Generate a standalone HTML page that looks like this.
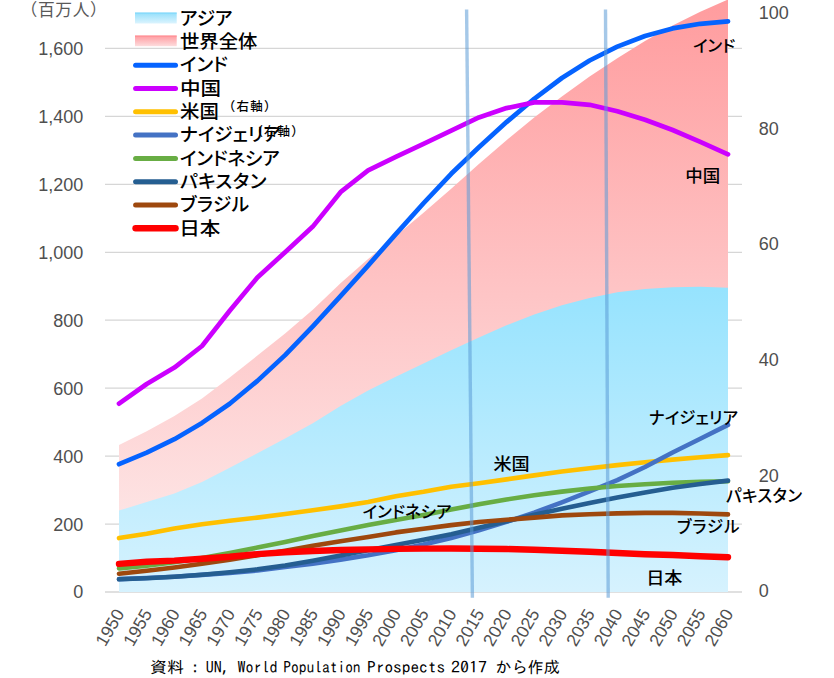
<!DOCTYPE html>
<html lang="ja"><head><meta charset="utf-8"><title>人口推移</title>
<style>
html,body{margin:0;padding:0;background:#fff;width:834px;height:678px;overflow:hidden}
svg{display:block}
.ax{font-family:"Liberation Sans",sans-serif;font-size:18px;fill:#4f4f4f}
.xl{font-family:"Liberation Sans",sans-serif;font-size:17.6px;fill:#4f4f4f}
.jp{font-family:"Liberation Sans","Noto Sans CJK JP",sans-serif;fill:#000;font-feature-settings:"palt"}
.lg{font-size:18.7px;font-weight:500}
.lb{font-size:16.5px;font-weight:500}
</style></head><body>
<svg width="834" height="678" viewBox="0 0 834 678">
<defs>
<linearGradient id="gw" x1="0" y1="0" x2="0" y2="1">
<stop offset="0" stop-color="#ff9c9e"/><stop offset="1" stop-color="#fdeeee"/></linearGradient>
<linearGradient id="ga" x1="0" y1="0" x2="0" y2="1">
<stop offset="0" stop-color="#96e3fe"/><stop offset="1" stop-color="#d6f2fe"/></linearGradient>
<linearGradient id="gws" x1="0" y1="0" x2="0" y2="1">
<stop offset="0" stop-color="#ff9a9f"/><stop offset="1" stop-color="#fddcdd"/></linearGradient>
<linearGradient id="gas" x1="0" y1="0" x2="0" y2="1">
<stop offset="0" stop-color="#93dffb"/><stop offset="1" stop-color="#dcf4fe"/></linearGradient>
</defs>

<line x1="105" y1="592.0" x2="742" y2="592.0" stroke="#d6d6d6" stroke-width="1.3"/>
<line x1="105" y1="524.1" x2="742" y2="524.1" stroke="#d6d6d6" stroke-width="1.3"/>
<line x1="105" y1="456.1" x2="742" y2="456.1" stroke="#d6d6d6" stroke-width="1.3"/>
<line x1="105" y1="388.2" x2="742" y2="388.2" stroke="#d6d6d6" stroke-width="1.3"/>
<line x1="105" y1="320.2" x2="742" y2="320.2" stroke="#d6d6d6" stroke-width="1.3"/>
<line x1="105" y1="252.3" x2="742" y2="252.3" stroke="#d6d6d6" stroke-width="1.3"/>
<line x1="105" y1="184.3" x2="742" y2="184.3" stroke="#d6d6d6" stroke-width="1.3"/>
<line x1="105" y1="116.4" x2="742" y2="116.4" stroke="#d6d6d6" stroke-width="1.3"/>
<line x1="105" y1="48.4" x2="742" y2="48.4" stroke="#d6d6d6" stroke-width="1.3"/>
<path d="M119.0,592.0 L119.0,445.0 L146.7,431.3 L174.4,416.1 L202.0,398.4 L229.7,377.5 L257.4,355.6 L285.1,333.6 L312.8,309.7 L340.5,283.2 L368.1,259.1 L395.8,235.9 L423.5,212.8 L451.2,188.8 L478.9,164.1 L506.5,140.2 L534.2,117.6 L561.9,96.4 L589.6,76.6 L617.3,58.2 L645.0,41.1 L672.6,25.6 L700.3,11.8 L728.0,-0.5 L728.0,592.0 Z" fill="url(#gw)"/>
<path d="M119.0,592.0 L119.0,510.6 L146.7,502.0 L174.4,493.4 L202.0,482.0 L229.7,467.8 L257.4,453.2 L285.1,438.5 L312.8,423.3 L340.5,405.9 L368.1,390.5 L395.8,376.7 L423.5,363.4 L451.2,350.3 L478.9,337.4 L506.5,325.3 L534.2,314.6 L561.9,305.3 L589.6,297.9 L617.3,292.3 L645.0,288.9 L672.6,287.3 L700.3,286.8 L728.0,287.7 L728.0,592.0 Z" fill="url(#ga)"/>
<polyline points="119.0,464.2 146.7,452.7 174.4,439.2 202.0,422.9 229.7,403.8 257.4,380.9 285.1,355.1 312.8,326.3 340.5,296.2 368.1,265.6 395.8,234.1 423.5,203.3 451.2,173.8 478.9,147.3 506.5,122.1 534.2,98.8 561.9,78.0 589.6,60.5 617.3,46.6 645.0,36.0 672.6,28.4 700.3,23.8 728.0,21.3" fill="none" stroke="#0563ff" stroke-width="4.7" stroke-linecap="round" stroke-linejoin="round"/>
<polyline points="119.0,403.7 146.7,384.0 174.4,367.6 202.0,346.0 229.7,310.8 257.4,277.4 285.1,252.2 312.8,226.6 340.5,192.2 368.1,170.4 395.8,156.8 423.5,143.9 451.2,130.7 478.9,117.4 506.5,108.1 534.2,102.4 561.9,102.4 589.6,104.8 617.3,111.3 645.0,119.8 672.6,130.0 700.3,141.9 728.0,154.4" fill="none" stroke="#cc00ff" stroke-width="4.7" stroke-linecap="round" stroke-linejoin="round"/>
<polyline points="119.0,538.1 146.7,533.7 174.4,528.6 202.0,524.2 229.7,520.8 257.4,517.6 285.1,514.0 312.8,510.3 340.5,506.4 368.1,501.9 395.8,496.2 423.5,491.8 451.2,486.7 478.9,483.3 506.5,479.4 534.2,475.4 561.9,471.5 589.6,468.2 617.3,465.1 645.0,462.2 672.6,459.6 700.3,457.3 728.0,455.1" fill="none" stroke="#ffc000" stroke-width="4.6" stroke-linecap="round" stroke-linejoin="round"/>
<polyline points="119.0,579.1 146.7,578.0 174.4,576.7 202.0,574.9 229.7,573.0 257.4,570.5 285.1,567.0 312.8,563.6 340.5,559.6 368.1,555.3 395.8,550.2 423.5,544.6 451.2,538.1 478.9,530.4 506.5,521.9 534.2,512.6 561.9,502.3 589.6,491.4 617.3,480.2 645.0,467.0 672.6,452.5 700.3,438.8 728.0,424.9" fill="none" stroke="#4472c4" stroke-width="4.6" stroke-linecap="round" stroke-linejoin="round"/>
<polyline points="119.0,568.4 146.7,565.8 174.4,562.2 202.0,557.9 229.7,553.0 257.4,547.6 285.1,541.9 312.8,535.9 340.5,530.4 368.1,525.1 395.8,520.1 423.5,515.0 451.2,509.6 478.9,504.3 506.5,499.5 534.2,495.2 561.9,491.6 589.6,488.5 617.3,486.0 645.0,484.2 672.6,482.7 700.3,481.9 728.0,481.3" fill="none" stroke="#68ad44" stroke-width="4.6" stroke-linecap="round" stroke-linejoin="round"/>
<polyline points="119.0,579.3 146.7,578.3 174.4,576.7 202.0,574.7 229.7,572.3 257.4,569.3 285.1,565.5 312.8,560.7 340.5,555.4 368.1,550.3 395.8,545.0 423.5,539.7 451.2,534.2 478.9,527.7 506.5,521.2 534.2,514.8 561.9,508.8 589.6,503.0 617.3,497.6 645.0,492.5 672.6,487.7 700.3,484.0 728.0,480.6" fill="none" stroke="#255e91" stroke-width="4.6" stroke-linecap="round" stroke-linejoin="round"/>
<polyline points="119.0,573.7 146.7,570.7 174.4,567.5 202.0,563.7 229.7,559.6 257.4,555.3 285.1,550.7 312.8,545.8 340.5,541.2 368.1,537.0 395.8,532.4 423.5,528.8 451.2,525.1 478.9,522.0 506.5,519.8 534.2,517.6 561.9,515.4 589.6,514.2 617.3,513.4 645.0,512.9 672.6,512.9 700.3,513.5 728.0,514.4" fill="none" stroke="#9e480e" stroke-width="4.6" stroke-linecap="round" stroke-linejoin="round"/>
<polyline points="119.0,563.9 146.7,561.8 174.4,560.6 202.0,558.7 229.7,556.8 257.4,554.1 285.1,552.3 312.8,551.0 340.5,550.0 368.1,549.4 395.8,548.9 423.5,548.6 451.2,548.5 478.9,548.7 506.5,549.0 534.2,549.8 561.9,550.7 589.6,551.7 617.3,553.0 645.0,554.2 672.6,555.0 700.3,556.2 728.0,557.2" fill="none" stroke="#ff0000" stroke-width="6.4" stroke-linecap="round" stroke-linejoin="round"/>
<line x1="466.6" y1="9.5" x2="472.4" y2="597.8" stroke="#5b9bd5" stroke-opacity="0.55" stroke-width="3.4"/>
<line x1="605.5" y1="9.5" x2="608.2" y2="597.8" stroke="#5b9bd5" stroke-opacity="0.55" stroke-width="3.4"/>
<text class="ax" x="83.2" y="598.4" text-anchor="end">0</text>
<text class="ax" x="83.2" y="530.5" text-anchor="end">200</text>
<text class="ax" x="83.2" y="462.5" text-anchor="end">400</text>
<text class="ax" x="83.2" y="394.6" text-anchor="end">600</text>
<text class="ax" x="83.2" y="326.6" text-anchor="end">800</text>
<text class="ax" x="83.2" y="258.7" text-anchor="end">1,000</text>
<text class="ax" x="83.2" y="190.7" text-anchor="end">1,200</text>
<text class="ax" x="83.2" y="122.8" text-anchor="end">1,400</text>
<text class="ax" x="83.2" y="54.8" text-anchor="end">1,600</text>
<text class="ax" x="758.8" y="597.3">0</text>
<text class="ax" x="758.8" y="481.6">20</text>
<text class="ax" x="758.8" y="365.9">40</text>
<text class="ax" x="758.8" y="250.2">60</text>
<text class="ax" x="758.8" y="134.5">80</text>
<text class="ax" x="758.8" y="18.8">100</text>
<text class="xl" x="124.9" y="613.5" text-anchor="end" transform="rotate(-60 124.9 613.5)">1950</text>
<text class="xl" x="152.6" y="613.5" text-anchor="end" transform="rotate(-60 152.6 613.5)">1955</text>
<text class="xl" x="180.3" y="613.5" text-anchor="end" transform="rotate(-60 180.3 613.5)">1960</text>
<text class="xl" x="207.9" y="613.5" text-anchor="end" transform="rotate(-60 207.9 613.5)">1965</text>
<text class="xl" x="235.6" y="613.5" text-anchor="end" transform="rotate(-60 235.6 613.5)">1970</text>
<text class="xl" x="263.3" y="613.5" text-anchor="end" transform="rotate(-60 263.3 613.5)">1975</text>
<text class="xl" x="291.0" y="613.5" text-anchor="end" transform="rotate(-60 291.0 613.5)">1980</text>
<text class="xl" x="318.7" y="613.5" text-anchor="end" transform="rotate(-60 318.7 613.5)">1985</text>
<text class="xl" x="346.4" y="613.5" text-anchor="end" transform="rotate(-60 346.4 613.5)">1990</text>
<text class="xl" x="374.0" y="613.5" text-anchor="end" transform="rotate(-60 374.0 613.5)">1995</text>
<text class="xl" x="401.7" y="613.5" text-anchor="end" transform="rotate(-60 401.7 613.5)">2000</text>
<text class="xl" x="429.4" y="613.5" text-anchor="end" transform="rotate(-60 429.4 613.5)">2005</text>
<text class="xl" x="457.1" y="613.5" text-anchor="end" transform="rotate(-60 457.1 613.5)">2010</text>
<text class="xl" x="484.8" y="613.5" text-anchor="end" transform="rotate(-60 484.8 613.5)">2015</text>
<text class="xl" x="512.4" y="613.5" text-anchor="end" transform="rotate(-60 512.4 613.5)">2020</text>
<text class="xl" x="540.1" y="613.5" text-anchor="end" transform="rotate(-60 540.1 613.5)">2025</text>
<text class="xl" x="567.8" y="613.5" text-anchor="end" transform="rotate(-60 567.8 613.5)">2030</text>
<text class="xl" x="595.5" y="613.5" text-anchor="end" transform="rotate(-60 595.5 613.5)">2035</text>
<text class="xl" x="623.2" y="613.5" text-anchor="end" transform="rotate(-60 623.2 613.5)">2040</text>
<text class="xl" x="650.9" y="613.5" text-anchor="end" transform="rotate(-60 650.9 613.5)">2045</text>
<text class="xl" x="678.5" y="613.5" text-anchor="end" transform="rotate(-60 678.5 613.5)">2050</text>
<text class="xl" x="706.2" y="613.5" text-anchor="end" transform="rotate(-60 706.2 613.5)">2055</text>
<text class="xl" x="733.9" y="613.5" text-anchor="end" transform="rotate(-60 733.9 613.5)">2060</text>
<text class="jp" x="20.6" y="16.4" style="font-size:16.8px;fill:#595959;letter-spacing:0.6px;font-feature-settings:normal">（百万人）</text>
<rect x="135" y="12.6" width="41.7" height="10.9" fill="url(#gas)"/>
<rect x="135" y="12.6" width="41.7" height="1" fill="#7fd8fb"/>
<rect x="135" y="35.6" width="41.7" height="10.6" fill="url(#gws)"/>
<rect x="135" y="35.6" width="41.7" height="1" fill="#ff8c92"/>
<line x1="135.6" y1="65.2" x2="175.5" y2="65.2" stroke="#0563ff" stroke-width="5" stroke-linecap="round"/>
<line x1="135.6" y1="88.5" x2="175.5" y2="88.5" stroke="#cc00ff" stroke-width="5" stroke-linecap="round"/>
<line x1="135.6" y1="111.8" x2="175.5" y2="111.8" stroke="#ffc000" stroke-width="5" stroke-linecap="round"/>
<line x1="135.6" y1="135.1" x2="175.5" y2="135.1" stroke="#4472c4" stroke-width="5" stroke-linecap="round"/>
<line x1="135.6" y1="158.4" x2="175.5" y2="158.4" stroke="#68ad44" stroke-width="5" stroke-linecap="round"/>
<line x1="135.6" y1="181.7" x2="175.5" y2="181.7" stroke="#255e91" stroke-width="5" stroke-linecap="round"/>
<line x1="135.6" y1="205.0" x2="175.5" y2="205.0" stroke="#9e480e" stroke-width="5" stroke-linecap="round"/>
<line x1="135.6" y1="228.3" x2="175.5" y2="228.3" stroke="#ff0000" stroke-width="6.5" stroke-linecap="round"/>
<text class="jp lg" x="180.0" y="24.8">アジア</text>
<text class="jp lg" transform="translate(180.0 48.1) scale(1.036 1)">世界全体</text>
<text class="jp lg" x="180.0" y="71.4">インド</text>
<text class="jp lg" transform="translate(180.0 94.7) scale(1.1 1)">中国</text>
<text class="jp lg" transform="translate(180.0 118.0) scale(1.04 1)">米国</text>
<text class="jp lg" x="180.0" y="141.3">ナイジェリア</text>
<text class="jp lg" x="180.0" y="164.6" style="letter-spacing:-0.2px">インドネシア</text>
<text class="jp lg" x="180.0" y="187.9" style="letter-spacing:0.5px">パキスタン</text>
<text class="jp lg" x="180.0" y="211.2" style="letter-spacing:0.4px">ブラジル</text>
<text class="jp lg" transform="translate(179.2 234.5) scale(1.1 1)">日本</text>
<text class="jp" x="222.7" y="110.8" style="font-size:12.5px;font-weight:500;letter-spacing:1.27px;font-feature-settings:normal">（右軸）</text>
<text class="jp" x="250.4" y="136.3" style="font-size:12.5px;font-weight:500;letter-spacing:1.1px;font-feature-settings:normal">（右軸）</text>
<text class="jp lb" x="693.0" y="51.5">インド</text>
<text class="jp lb" transform="translate(685.2 181.5) scale(1.06 1)">中国</text>
<text class="jp lb" transform="translate(493.4 469.5) scale(1.1 1)">米国</text>
<text class="jp lb" x="362.7" y="517.5">インドネシア</text>
<text class="jp lb" x="649.0" y="423.5">ナイジェリア</text>
<text class="jp lb" x="726.0" y="501.5" style="letter-spacing:0.4px">パキスタン</text>
<text class="jp lb" x="677.0" y="533.0" style="letter-spacing:0.8px">ブラジル</text>
<text class="jp lb" transform="translate(646.2 583.5) scale(1.1 1)">日本</text>
<text y="673" style="font-family:'IPAGothic',monospace;font-size:16px;fill:#000"><tspan x="150" textLength="34" lengthAdjust="spacingAndGlyphs">資料</tspan><tspan x="191">:</tspan><tspan x="205.8">UN, </tspan><tspan x="237.6">World </tspan><tspan x="283.3" textLength="77.3" lengthAdjust="spacingAndGlyphs">Population</tspan> <tspan x="367.1" textLength="78" lengthAdjust="spacingAndGlyphs">Prospects</tspan> <tspan x="451" textLength="36" lengthAdjust="spacingAndGlyphs">2017</tspan> <tspan x="495.3" textLength="64.6" lengthAdjust="spacingAndGlyphs">から作成</tspan></text>
</svg>
</body></html>
